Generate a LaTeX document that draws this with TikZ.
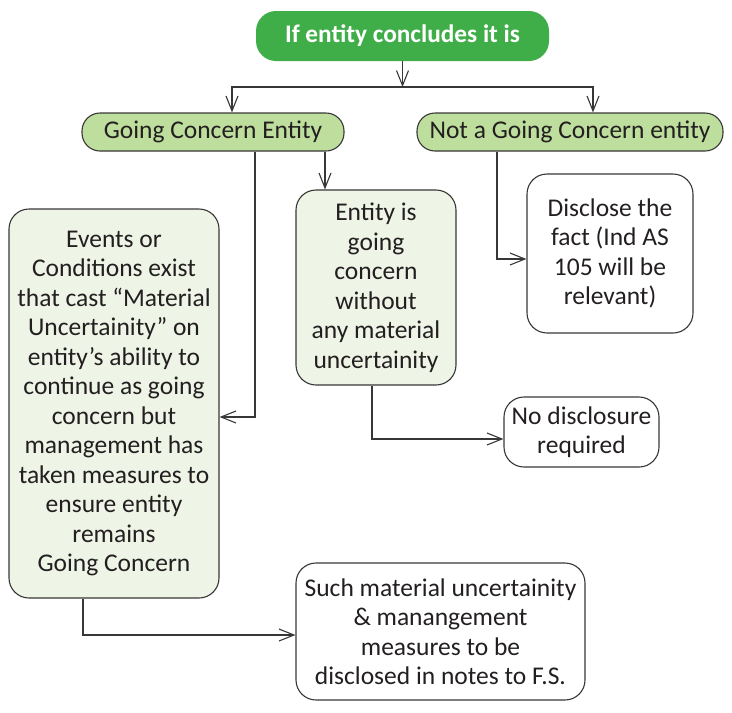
\documentclass[tikz,border=0pt]{standalone}
\usepackage{fontspec}
\setmainfont{Carlito}
\usetikzlibrary{arrows.meta}

\definecolor{topgreen}{RGB}{63,174,73}
\definecolor{pillgreen}{RGB}{190,222,158}
\definecolor{boxgreen}{RGB}{238,244,230}
\definecolor{linegray}{RGB}{55,55,55}
\definecolor{textgray}{RGB}{35,31,32}

\begin{document}
\begin{tikzpicture}[x=1pt, y=-1pt,
    box/.style={draw=linegray, line width=1.1pt, rounded corners=20pt, align=center,
      inner sep=0pt, text=textgray, font=\fontsize{25.5}{29.5}\selectfont},
    greenbox/.style={box, fill=boxgreen},
    pill/.style={box, fill=pillgreen, rounded corners=18pt, minimum height=38pt},
    link/.style={draw=linegray, line width=1.1pt, ->, >={Straight Barb[length=15pt, width=12pt]}}]
  \useasboundingbox (0,0) rectangle (732,713);

  % top decision
  \node[fill=topgreen, rounded corners=20pt, minimum width=293pt, minimum height=50pt,
    text=white, font=\fontsize{25.3}{28}\selectfont\bfseries] (top) at (402.5,36) {If entity concludes it is};
  \coordinate (split) at (402.5,87);

  % the two outcomes
  \node[pill, minimum width=262pt] (gc) at (213,132) {Going Concern Entity};
  \node[pill, minimum width=306pt] (ngc) at (570,132) {Not a Going Concern entity};

  % boxes
  \node[greenbox, minimum width=210pt, minimum height=389pt] (events) at (114,403.5)
    {Events or\\Conditions exist\\that cast “Material\\Uncertainity” on\\entity’s ability to\\continue as going\\concern but\\management has\\taken measures to\\ensure entity\\remains\\Going Concern};
  \node[greenbox, minimum width=160pt, minimum height=195pt] (entity) at (376,287.5)
    {Entity is\\going\\concern\\without\\any material\\uncertainity};
  \node[box, minimum width=166pt, minimum height=159pt] (disclose) at (610,253.5)
    {Disclose the\\fact (Ind AS\\105 will be\\relevant)};
  \node[box, minimum width=155pt, minimum height=70pt] (nodisc) at (581.5,432)
    {No disclosure\\required};
  \node[box, minimum width=289pt, minimum height=137pt] (such) at (440.5,631.5)
    {Such material uncertainity\\\& manangement\\measures to be\\disclosed in notes to F.S.};

  % connectors
  \draw[link] (top) -- (split);
  \draw[link] (split) -| (232,0 |- gc.north);
  \draw[link] (split) -| (593,0 |- ngc.north);
  \draw[link] (325,0 |- gc.south) -- (325,0 |- entity.north);
  \draw[link] (255,0 |- gc.south) |- (events.east |- 0,417);
  \draw[link] (497,0 |- ngc.south) |- (disclose.west |- 0,259);
  \draw[link] (372,0 |- entity.south) |- (nodisc.west |- 0,439);
  \draw[link] (83,0 |- events.south) |- (such.west |- 0,635);
\end{tikzpicture}
\end{document}
